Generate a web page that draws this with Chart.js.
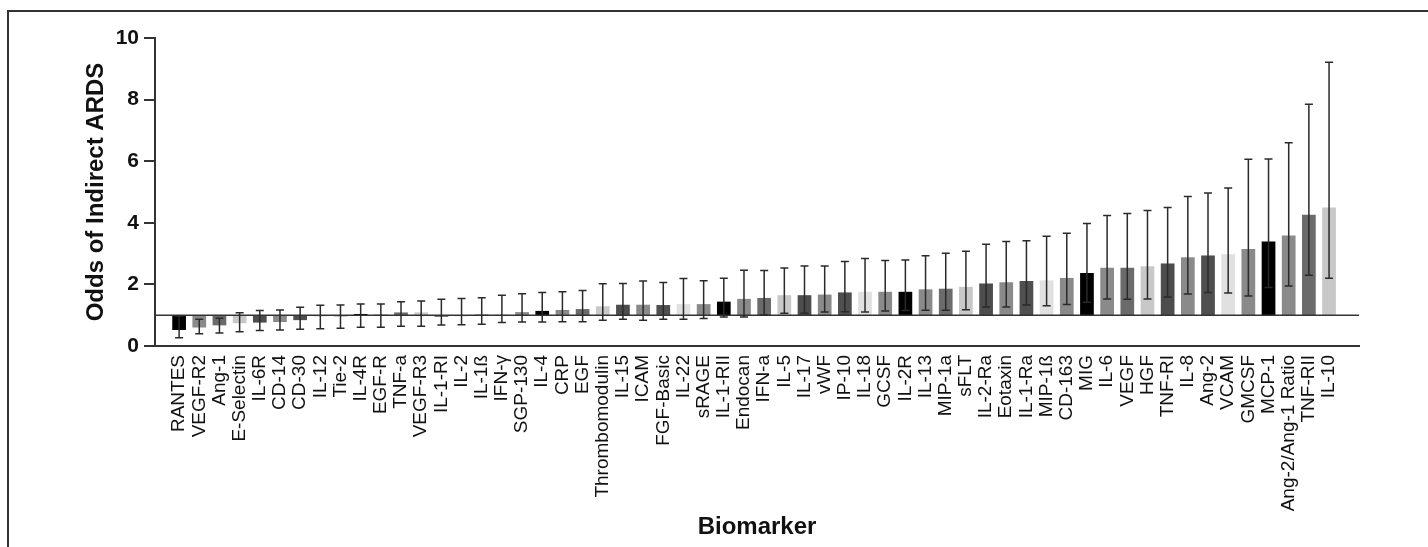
<!DOCTYPE html>
<html>
<head>
<meta charset="utf-8">
<script src="https://cdn.jsdelivr.net/npm/chart.js@4.4.1/dist/chart.umd.min.js"></script>
<style>
  html, body { margin: 0; padding: 0; background: #fff; overflow: hidden; }
  #frame { position: absolute; left: 7px; top: 10px; width: 2000px; height: 2000px;
           border-left: 2px solid #333; border-top: 2px solid #333; }
  #Graph { position: absolute; left: 0; top: 0; }
</style>
</head>
<body>
<div id="frame"></div>
<canvas id="Graph" width="1428" height="547"></canvas>
<script>
// biomarkers, sorted by odds ratio
const biomarkers = ['RANTES', 'VEGF-R2', 'Ang-1', 'E-Selectin', 'IL-6R', 'CD-14', 'CD-30', 'IL-12', 'Tie-2',
  'IL-4R', 'EGF-R', 'TNF-a', 'VEGF-R3', 'IL-1-RI', 'IL-2', 'IL-1ß', 'IFN-γ', 'SGP-130',
  'IL-4', 'CRP', 'EGF', 'Thrombomodulin', 'IL-15', 'ICAM', 'FGF-Basic', 'IL-22', 'sRAGE',
  'IL-1-RII', 'Endocan', 'IFN-a', 'IL-5', 'IL-17', 'vWF', 'IP-10', 'IL-18', 'GCSF',
  'IL-2R', 'IL-13', 'MIP-1a', 'sFLT', 'IL-2-Ra', 'Eotaxin', 'IL-1-Ra', 'MIP-1ß', 'CD-163',
  'MIG', 'IL-6', 'VEGF', 'HGF', 'TNF-RI', 'IL-8', 'Ang-2', 'VCAM', 'GMCSF',
  'MCP-1', 'Ang-2/Ang-1 Ratio', 'TNF-RII', 'IL-10'];

const odds = [0.52, 0.60, 0.67, 0.74, 0.76, 0.78, 0.84, 0.95, 0.96,
  1.04, 1.02, 1.09, 1.09, 0.95, 0.97, 1.02, 1.03, 1.10,
  1.14, 1.17, 1.20, 1.29, 1.34, 1.34, 1.33, 1.36, 1.36,
  1.44, 1.53, 1.56, 1.65, 1.65, 1.67, 1.74, 1.76, 1.76,
  1.76, 1.84, 1.86, 1.92, 2.03, 2.07, 2.11, 2.13, 2.21,
  2.37, 2.54, 2.54, 2.59, 2.68, 2.88, 2.94, 2.98, 3.15,
  3.39, 3.59, 4.26, 4.50];

const ciLow = [0.27, 0.40, 0.42, 0.46, 0.50, 0.52, 0.54, 0.56, 0.58,
  0.61, 0.61, 0.64, 0.64, 0.68, 0.69, 0.71, 0.76, 0.78,
  0.78, 0.79, 0.79, 0.84, 0.87, 0.84, 0.87, 0.87, 0.89,
  0.94, 0.94, 1.01, 1.06, 1.06, 1.10, 1.11, 1.10, 1.14,
  1.15, 1.16, 1.16, 1.18, 1.27, 1.27, 1.33, 1.31, 1.35,
  1.42, 1.53, 1.52, 1.53, 1.59, 1.69, 1.74, 1.72, 1.62,
  1.90, 1.95, 2.30, 2.20];

const ciHigh = [0.97, 0.87, 0.90, 1.08, 1.15, 1.17, 1.26, 1.32, 1.33,
  1.36, 1.36, 1.44, 1.46, 1.52, 1.54, 1.57, 1.65, 1.70,
  1.74, 1.76, 1.80, 2.02, 2.03, 2.11, 2.06, 2.19, 2.12,
  2.20, 2.46, 2.45, 2.53, 2.60, 2.60, 2.74, 2.84, 2.78,
  2.79, 2.93, 3.01, 3.08, 3.30, 3.39, 3.42, 3.56, 3.66,
  3.98, 4.24, 4.30, 4.40, 4.50, 4.85, 4.97, 5.13, 6.06,
  6.07, 6.60, 7.85, 9.21];

const yTicks = [0, 2, 4, 6, 8, 10];

// grey shades repeat every 9 bars
const shades = ['#000000', '#8a8a8a', '#6b6b6b', '#c8c8c8', '#4d4d4d', '#8a8a8a', '#4f4f4f', '#e0e0e0', '#8a8a8a'];

const font = 'Liberation Sans, Arial, sans-serif';

const errorBars = {
  id: 'errorBars',
  afterDatasetsDraw(chart) {
    const {ctx, scales: {x, y}, chartArea} = chart;
    ctx.save();
    // reference line at odds = 1
    ctx.strokeStyle = '#333';
    ctx.lineWidth = 1.5;
    ctx.beginPath();
    ctx.moveTo(chartArea.left, y.getPixelForValue(1));
    ctx.lineTo(chartArea.right, y.getPixelForValue(1));
    ctx.stroke();
    // whiskers
    ctx.strokeStyle = '#2a2a2a';
    ctx.lineWidth = 1.5;
    biomarkers.forEach((b, i) => {
      const px = x.getPixelForValue(i);
      const lo = y.getPixelForValue(ciLow[i]);
      const hi = y.getPixelForValue(ciHigh[i]);
      ctx.beginPath();
      ctx.moveTo(px, lo); ctx.lineTo(px, hi);
      ctx.moveTo(px - 4, lo); ctx.lineTo(px + 4, lo);
      ctx.moveTo(px - 4, hi); ctx.lineTo(px + 4, hi);
      ctx.stroke();
    });
    ctx.restore();
  }
};

new Chart(document.getElementById('Graph'), {
  type: 'bar',
  data: {
    datasets: [{
      data: biomarkers.map((b, i) => ({x: i, y: [1, odds[i]]})),
      backgroundColor: biomarkers.map((b, i) => shades[i % shades.length]),
      borderWidth: 0,
      barPercentage: 0.68,
      categoryPercentage: 1
    }]
  },
  options: {
    responsive: false,
    animation: false,
    devicePixelRatio: 1,
    layout: { padding: { top: 38, right: 69, left: 0, bottom: 0 } },
    plugins: { legend: { display: false }, tooltip: { enabled: false } },
    scales: {
      x: {
        type: 'linear',
        min: -0.68,
        max: 57.97,
        grid: { display: false, drawTicks: false },
        border: { display: true, color: '#333', width: 2 },
        ticks: {
          stepSize: 1,
          includeBounds: false,
          autoSkip: false,
          maxTicksLimit: 100,
          minRotation: 90,
          maxRotation: 90,
          padding: 9,
          color: '#111',
          font: { family: font, size: 19 },
          callback: (v) => biomarkers[v] ?? ''
        },
        title: {
          display: true,
          text: 'Biomarker',
          color: '#111',
          font: { family: font, size: 24, weight: 'bold' },
          padding: { top: 0, bottom: 5.6 }
        },
        afterFit(scale) { scale.height = 547 - 346; }
      },
      y: {
        min: 0,
        max: 10,
        afterBuildTicks(scale) { scale.ticks = yTicks.map(v => ({value: v})); },
        grid: { drawOnChartArea: false, drawTicks: true, tickLength: 11, color: '#333', lineWidth: 2 },
        border: { display: true, color: '#333', width: 2 },
        ticks: {
          padding: 5,
          color: '#111',
          font: { family: font, size: 21, weight: 'bold' }
        },
        title: {
          display: true,
          text: 'Odds of Indirect ARDS',
          color: '#111',
          font: { family: font, size: 24, weight: 'bold' },
          padding: { top: 81.6, bottom: 0 }
        },
        afterFit(scale) { scale.width = 155; }
      }
    }
  },
  plugins: [errorBars]
});
</script>
</body>
</html>
